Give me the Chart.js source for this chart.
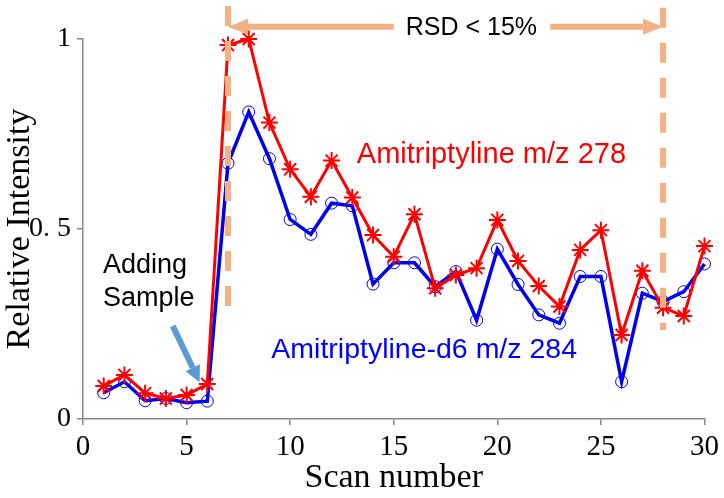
<!DOCTYPE html>
<html><head><meta charset="utf-8">
<script src="https://cdn.jsdelivr.net/npm/chart.js@4/dist/chart.umd.min.js"></script>
<style>html,body{margin:0;padding:0;background:#fff}#wrap{width:724px;height:498px}</style>
</head><body><div id="wrap"><canvas id="c" width="724" height="498"></canvas></div>
<script>
// ---- data ----
const scans = [1,2,3,4,5,6,7,8,9,10,11,12,13,14,15,16,17,18,19,20,21,22,23,24,25,26,27,28,29,30];
const amitriptyline278 = [0.087,0.116,0.068,0.054,0.063,0.092,0.984,1.0,0.78,0.657,0.585,0.68,0.583,0.484,0.427,0.539,0.344,0.379,0.397,0.524,0.416,0.35,0.296,0.445,0.497,0.221,0.39,0.293,0.271,0.455];
const amitriptylineD6_284 = [0.069,0.098,0.048,0.054,0.043,0.047,0.673,0.808,0.685,0.525,0.486,0.568,0.561,0.355,0.411,0.411,0.348,0.388,0.26,0.447,0.354,0.274,0.252,0.375,0.375,0.098,0.331,0.309,0.335,0.408];
const xTicks = [0,5,10,15,20,25,30];
const yTicks = [0,0.5,1];
const yTickLabels = ['0','0. 5','1'];
const seriesNames = ['Amitriptyline m/z 278','Amitriptyline-d6 m/z 284'];
const rsdRange = [7, 28];
const rsdText = 'RSD < 15%';
const addingText = ['Adding','Sample'];

const ORANGE = '#F4B183';

function arrowHead(ctx, tx, ty, dx, dy, len, hw){
  const L = Math.hypot(dx,dy); const ux = dx/L, uy = dy/L;
  const bx = tx - ux*len, by = ty - uy*len;
  ctx.beginPath();
  ctx.moveTo(tx,ty);
  ctx.lineTo(bx - uy*hw, by + ux*hw);
  ctx.lineTo(bx + uy*hw, by - ux*hw);
  ctx.closePath(); ctx.fill();
  return [bx,by];
}

const annot = {
  id:'annot',
  afterDatasetsDraw(chart){
    const {ctx, scales:{x,y}} = chart;
    ctx.save();
    // dashed vertical boundaries
    ctx.strokeStyle = ORANGE; ctx.lineWidth = 6; ctx.lineCap = 'butt';
    ctx.setLineDash([20,15]);
    ctx.beginPath();
    ctx.moveTo(x.getPixelForValue(rsdRange[0]), y.getPixelForValue(1.087));
    ctx.lineTo(x.getPixelForValue(rsdRange[0]), y.getPixelForValue(0.292));
    ctx.stroke();
    ctx.beginPath();
    ctx.moveTo(x.getPixelForValue(rsdRange[1]), y.getPixelForValue(1.082));
    ctx.lineTo(x.getPixelForValue(rsdRange[1]), y.getPixelForValue(0.234));
    ctx.stroke();
    ctx.setLineDash([]);
    // double arrow with gap for text
    const ay = y.getPixelForValue(1.032);
    const xl = x.getPixelForValue(rsdRange[0]), xr = x.getPixelForValue(rsdRange[1]);
    const gl = x.getPixelForValue(15.0), gr = x.getPixelForValue(22.55);
    ctx.fillStyle = ORANGE; ctx.lineWidth = 6;
    const [lb] = arrowHead(ctx, xl, ay, -1, 0, 20, 8);
    const [rb] = arrowHead(ctx, xr, ay, 1, 0, 20, 8);
    ctx.beginPath(); ctx.moveTo(lb, ay); ctx.lineTo(gl, ay); ctx.stroke();
    ctx.beginPath(); ctx.moveTo(gr, ay); ctx.lineTo(rb, ay); ctx.stroke();
    // RSD text
    ctx.fillStyle = '#000'; ctx.font = '25px "Liberation Sans", Arial, sans-serif';
    ctx.textAlign = 'center'; ctx.textBaseline = 'alphabetic';
    ctx.fillText(rsdText, x.getPixelForValue(18.75), y.getPixelForValue(1.0105));
    // series labels
    ctx.textAlign = 'left';
    ctx.fillStyle = '#FF0000'; ctx.font = '29px "Liberation Sans", Arial, sans-serif';
    ctx.fillText(seriesNames[0], x.getPixelForValue(13.22), y.getPixelForValue(0.674));
    ctx.fillStyle = '#0000FF'; ctx.font = '28.5px "Liberation Sans", Arial, sans-serif';
    ctx.fillText(seriesNames[1], x.getPixelForValue(9.09), y.getPixelForValue(0.161));
    // Adding Sample
    ctx.fillStyle = '#000'; ctx.font = '27px "Liberation Sans", Arial, sans-serif';
    ctx.fillText(addingText[0], x.getPixelForValue(0.96), y.getPixelForValue(0.384));
    ctx.fillText(addingText[1], x.getPixelForValue(0.96), y.getPixelForValue(0.297));
    // blue arrow
    const bx0 = x.getPixelForValue(4.33), by0 = y.getPixelForValue(0.245);
    const bx1 = x.getPixelForValue(5.63), by1 = y.getPixelForValue(0.097);
    ctx.fillStyle = '#5B9BD5'; ctx.strokeStyle = '#5B9BD5'; ctx.lineWidth = 6;
    const [hbx, hby] = arrowHead(ctx, bx1, by1, bx1-bx0, by1-by0, 16, 8);
    ctx.beginPath(); ctx.moveTo(bx0, by0); ctx.lineTo(hbx, hby); ctx.stroke();
    ctx.restore();
  }
};

const serif = '"Liberation Serif", "Times New Roman", serif';

new Chart(document.getElementById('c'), {
  type: 'line',
  data: {
    datasets: [
      {
        label: seriesNames[0],
        data: scans.map((s,i)=>({x:s, y:amitriptyline278[i]})),
        borderColor: '#FF0000', borderWidth: 3,
        pointStyle: 'star', pointRadius: 8.5, pointBorderWidth: 2,
        pointBorderColor: '#FF0000', pointBackgroundColor: '#FF0000',
        tension: 0, clip: false
      },
      {
        label: seriesNames[1],
        data: scans.map((s,i)=>({x:s, y:amitriptylineD6_284[i]})),
        borderColor: '#0000F0', borderWidth: 3.5,
        pointStyle: 'circle', pointRadius: 6, pointBorderWidth: 1,
        pointBorderColor: '#0000F0', pointBackgroundColor: 'rgba(0,0,0,0)',
        tension: 0, clip: false
      }
    ]
  },
  options: {
    responsive: false, animation: false, devicePixelRatio: 1,
    layout: { padding: { left: 0, right: 17, top: 39, bottom: 0 } },
    plugins: { legend: { display: false }, tooltip: { enabled: false } },
    scales: {
      x: {
        type: 'linear', min: 0, max: 30,
        afterBuildTicks: s => { s.ticks = xTicks.map(v=>({value:v})); },
        afterFit: s => { s.height = 79; },
        ticks: { color: '#000', font: { family: serif, size: 29 }, padding: 5, maxRotation: 0 },
        grid: { drawOnChartArea: false, drawTicks: true, tickLength: 6, color: '#888', lineWidth: 1.5 },
        border: { display: true, color: '#888', width: 1.5 },
        title: { display: true, text: 'Scan number', color: '#000', font: { family: serif, size: 34 }, padding: { top: 0, bottom: 0 } }
      },
      y: {
        type: 'linear', min: 0, max: 1,
        afterBuildTicks: s => { s.ticks = yTicks.map(v=>({value:v})); },
        afterFit: s => { s.width = 83; },
        ticks: { color: '#000', font: { family: serif, size: 28 }, padding: 6,
          callback: (v) => yTickLabels[yTicks.indexOf(v)] },
        grid: { drawOnChartArea: false, drawTicks: true, tickLength: 6, color: '#888', lineWidth: 1.5 },
        border: { display: true, color: '#888', width: 1.5 },
        title: { display: true, text: 'Relative Intensity', color: '#000', font: { family: serif, size: 34 }, padding: { top: 0, bottom: 0 } }
      }
    }
  },
  plugins: [annot]
});
</script></body></html>
